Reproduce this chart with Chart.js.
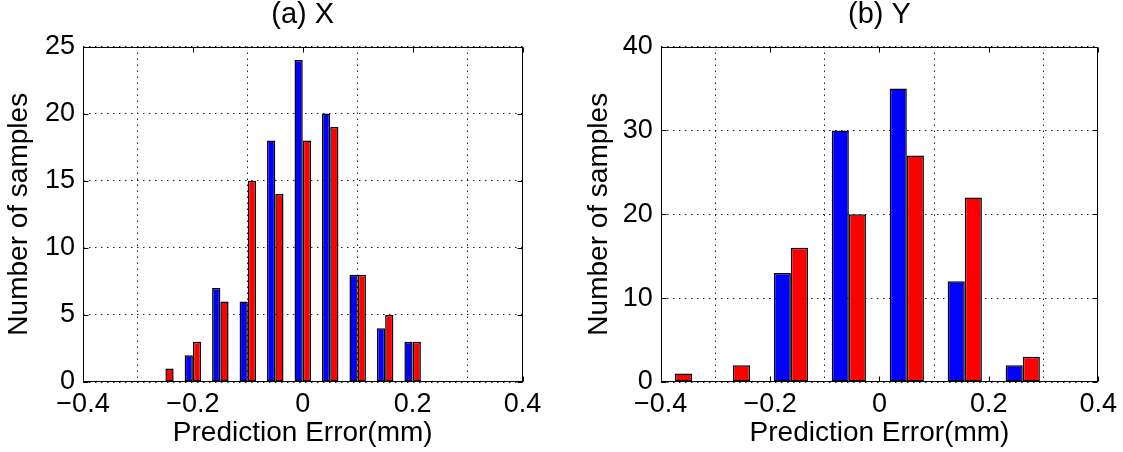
<!DOCTYPE html>
<html>
<head>
<meta charset="utf-8">
<title>Prediction error histograms</title>
<script src="https://cdn.jsdelivr.net/npm/chart.js@4.4.1/dist/chart.umd.min.js"></script>
<style>
  html, body { margin: 0; padding: 0; background: #fff; }
  .panel { position: absolute; top: 0; height: 452px; }
</style>
</head>
<body>
<div class="panel" style="left:0;width:562px"><canvas id="chartX"></canvas></div>
<div class="panel" style="left:580px;width:543px"><canvas id="chartY"></canvas></div>
<script>
// (a) X - bin centres and counts
const binsX = [-0.25, -0.2, -0.15, -0.1, -0.05, 0, 0.05, 0.1, 0.15, 0.2];
const blueX = [0, 2, 7, 6, 18, 24, 20, 8, 4, 3];
const redX  = [1, 3, 6, 15, 14, 18, 19, 8, 5, 3];

// (b) Y - bin centres and counts
const binsY = [-0.374, -0.268, -0.162, -0.056, 0.050, 0.156, 0.262];
const blueY = [0, 0, 13, 30, 35, 12, 2];
const redY  = [1, 2, 16, 20, 27, 22, 3];

// tick values and labels
const xTickValues = [-0.4, -0.2, 0, 0.2, 0.4];
const xTickLabels = ['\u22120.4', '\u22120.2', '0', '0.2', '0.4'];
const yTicksX = [0, 5, 10, 15, 20, 25];
const yTicksY = [0, 10, 20, 30, 40];

Chart.defaults.font.family = '"Liberation Sans", Arial, sans-serif';
Chart.defaults.font.size = 27;
Chart.defaults.color = '#000';

// box round the plot and inward tick marks, like matlab
const axisBox = {
    id: 'axisBox',
    afterDraw(chart) {
        const { ctx, chartArea: a, scales } = chart;
        const l = Math.round(a.left) + 0.5, r = Math.round(a.right) - 0.5;
        const t = Math.round(a.top) + 0.5, b = Math.round(a.bottom) - 0.5;
        const len = 5;
        ctx.save();
        ctx.strokeStyle = '#000';
        ctx.lineWidth = 1;
        ctx.strokeRect(l, t, r - l, b - t);
        ctx.beginPath();
        scales.x.ticks.forEach(tk => {
            const px = Math.round(scales.x.getPixelForValue(tk.value)) + 0.5;
            ctx.moveTo(px, b); ctx.lineTo(px, b - len);
            ctx.moveTo(px, t); ctx.lineTo(px, t + len);
        });
        scales.y.ticks.forEach(tk => {
            const py = Math.round(scales.y.getPixelForValue(tk.value)) + 0.5;
            ctx.moveTo(l, py); ctx.lineTo(l + len, py);
            ctx.moveTo(r, py); ctx.lineTo(r - len, py);
        });
        ctx.stroke();
        ctx.restore();
    }
};

function makeHist(id, title, bins, blue, red, yTicks, cfg) {
    const ctx = document.getElementById(id).getContext('2d');
    const toPoints = vals => bins.map((b, i) => ({ x: b, y: vals[i] }));
    const barStyle = {
        borderColor: '#000',
        borderWidth: 1.5,
        borderSkipped: false,
        inflateAmount: 0,
        categoryPercentage: cfg.catPct,
        barPercentage: 1.0
    };

    return new Chart(ctx, {
        type: 'bar',
        data: {
            datasets: [
                { ...barStyle, data: toPoints(blue), backgroundColor: '#0000ff' },
                { ...barStyle, data: toPoints(red), backgroundColor: '#ff0000' }
            ]
        },
        options: {
            responsive: true,
            maintainAspectRatio: false,
            animation: false,
            layout: { padding: { left: 0, right: cfg.rightPad, top: 0, bottom: 0 } },
            plugins: {
                legend: { display: false },
                tooltip: { enabled: false },
                title: {
                    display: true,
                    text: title,
                    fullSize: false,
                    font: { size: 29, weight: 'normal', lineHeight: 1 },
                    padding: { top: 0.5, bottom: 17 }
                }
            },
            scales: {
                x: {
                    type: 'linear',
                    offset: false,
                    min: -0.4,
                    max: 0.4,
                    afterBuildTicks: s => { s.ticks = xTickValues.map(v => ({ value: v })); },
                    afterFit: s => { s.height = 70; },
                    ticks: {
                        padding: 6,
                        maxRotation: 0,
                        callback: v => {
                            const i = xTickValues.findIndex(t => Math.abs(t - v) < 1e-9);
                            return i >= 0 ? xTickLabels[i] : '';
                        }
                    },
                    grid: { color: '#222', lineWidth: 1, drawTicks: false },
                    border: { display: false, dash: [1.5, 4.5] },
                    title: {
                        display: true,
                        text: 'Prediction Error(mm)',
                        font: { size: 28 },
                        padding: { top: 0, bottom: 1.9 }
                    }
                },
                y: {
                    min: 0,
                    max: yTicks[yTicks.length - 1],
                    afterBuildTicks: s => { s.ticks = yTicks.map(v => ({ value: v })); },
                    afterFit: s => { s.width = cfg.axisLeft; },
                    ticks: { padding: 8 },
                    grid: { color: '#222', lineWidth: 1, drawTicks: false },
                    border: { display: false, dash: [1.5, 4.5] },
                    title: {
                        display: true,
                        text: 'Number of samples',
                        font: { size: 28 },
                        padding: { top: 2.2, bottom: 0 }
                    }
                }
            }
        },
        plugins: [axisBox]
    });
}

makeHist('chartX', '(a) X', binsX, blueX, redX, yTicksX, { axisLeft: 83, rightPad: 39.5, catPct: 0.6 });
makeHist('chartY', '(b) Y', binsY, blueY, redY, yTicksY, { axisLeft: 80.7, rightPad: 23.7, catPct: 0.59 });
</script>
</body>
</html>
